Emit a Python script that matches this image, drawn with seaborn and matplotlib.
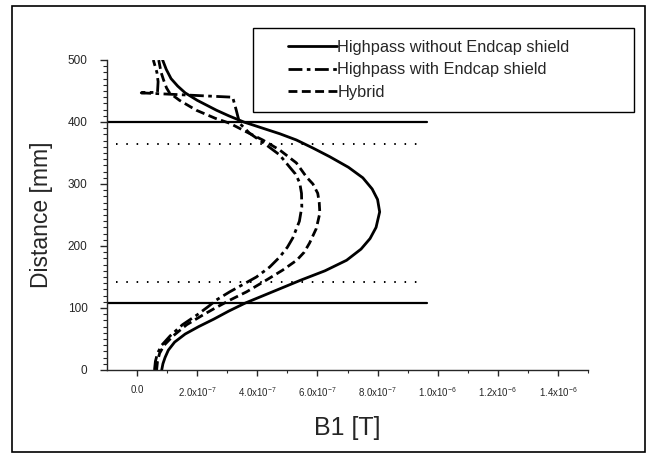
import matplotlib
matplotlib.use('Agg')
import matplotlib.pyplot as plt
import seaborn as sns
import pandas as pd
from matplotlib.patches import Rectangle
from matplotlib.ticker import MultipleLocator, FixedLocator

# Highpass without Endcap shield (distance mm, B1 in 1e-6 T)
solid_y = [0, 10, 20, 32, 45, 58, 70, 82, 95, 108, 120, 132, 145, 160, 177, 195, 212, 230, 255,
           275, 292, 310, 327, 344, 358, 371, 381, 390, 400, 410, 419, 435, 447, 458, 470, 485, 500]
solid_x = [0.082, 0.086, 0.093, 0.104, 0.125, 0.160, 0.205, 0.255, 0.305, 0.360, 0.420, 0.480, 0.545,
           0.625, 0.697, 0.745, 0.775, 0.795, 0.807, 0.800, 0.782, 0.751, 0.703, 0.641, 0.585, 0.530,
           0.475, 0.418, 0.355, 0.305, 0.264, 0.200, 0.160, 0.135, 0.113, 0.097, 0.085]

# Highpass with Endcap shield
dashdot_y = [0, 14, 27, 40, 55, 73, 89, 102, 113, 126, 140, 150, 166, 182, 198, 213, 240, 263, 285,
             302, 316, 327, 347, 363, 382, 398, 419, 440, 447, 448, 465, 480, 500]
dashdot_x = [0.058, 0.061, 0.068, 0.082, 0.110, 0.151, 0.200, 0.236, 0.264, 0.308, 0.360, 0.397,
             0.441, 0.474, 0.500, 0.518, 0.540, 0.548, 0.547, 0.541, 0.527, 0.508, 0.474, 0.430,
             0.374, 0.341, 0.330, 0.318, 0.014, 0.068, 0.070, 0.066, 0.054]

# Hybrid
hybrid_y = [0, 14, 27, 40, 55, 73, 89, 100, 113, 126, 145, 161, 177, 190, 205, 228, 253, 270, 285,
            300, 311, 334, 355, 371, 384, 398, 406, 419, 435, 447, 455, 468, 480, 500]
hybrid_x = [0.065, 0.068, 0.075, 0.090, 0.120, 0.165, 0.220, 0.260, 0.310, 0.364, 0.430, 0.484,
            0.531, 0.556, 0.574, 0.596, 0.608, 0.606, 0.601, 0.585, 0.564, 0.530, 0.474, 0.418,
            0.364, 0.308, 0.260, 0.197, 0.141, 0.108, 0.098, 0.088, 0.080, 0.072]

# reference lines
shield_y = [108, 400]
shield_x = [-0.1, 0.965]
coil_y = [142, 364]
coil_x = [-0.07, 0.935]

labels = ['Highpass without Endcap shield', 'Highpass with Endcap shield', 'Hybrid']
xtick_vals = [0.0, 0.2, 0.4, 0.6, 0.8, 1.0, 1.2, 1.4]
xtick_labels = ['0.0', '2.0x10$^{-7}$', '4.0x10$^{-7}$', '6.0x10$^{-7}$', '8.0x10$^{-7}$',
                '1.0x10$^{-6}$', '1.2x10$^{-6}$', '1.4x10$^{-6}$']

sns.set_style('ticks')
plt.rcParams['font.family'] = ['Liberation Sans', 'DejaVu Sans']
plt.rcParams['mathtext.fontset'] = 'custom'
plt.rcParams['mathtext.rm'] = 'Liberation Sans'
plt.rcParams['mathtext.it'] = 'Liberation Sans'

frames = []
for lab, xs, ys in [(labels[0], solid_x, solid_y), (labels[1], dashdot_x, dashdot_y), (labels[2], hybrid_x, hybrid_y)]:
    d = pd.DataFrame({'B1': [v * 1e-6 for v in xs], 'dist': ys})
    d['series'] = lab
    frames.append(d)
df = pd.concat(frames, ignore_index=True)

fig = plt.figure(figsize=(6.51, 4.55), dpi=100)
ax = fig.add_axes([107 / 651, 1 - 370 / 455, 481 / 651, 310 / 455])

dash_styles = {labels[0]: '', labels[1]: (5, 1.6, 1.3, 1.6), labels[2]: (3.2, 1.6)}
sns.lineplot(data=df, x='B1', y='dist', hue='series', style='series', units='series',
             estimator=None, sort=False, dashes=dash_styles, palette=['black'] * 3,
             linewidth=2, ax=ax, legend=False)

for yv in shield_y:
    ax.plot([shield_x[0] * 1e-6, shield_x[1] * 1e-6], [yv, yv], color='black', lw=1.6)
for yv in coil_y:
    ax.plot([coil_x[0] * 1e-6, coil_x[1] * 1e-6], [yv, yv], color='black', lw=1.4,
            linestyle=(0, (0.8, 4.5)))

ax.set_xlim(-1e-7, 1.5e-6)
ax.set_ylim(0, 500)
sns.despine(ax=ax)
ax.spines['left'].set_linewidth(1.0)
ax.spines['bottom'].set_linewidth(1.0)

ax.xaxis.set_major_locator(FixedLocator([v * 1e-6 for v in xtick_vals]))
ax.xaxis.set_minor_locator(FixedLocator([(v + 0.1) * 1e-6 for v in xtick_vals]))
ax.set_xticklabels(xtick_labels, fontsize=7)
ax.yaxis.set_major_locator(MultipleLocator(100))
ax.yaxis.set_minor_locator(MultipleLocator(10))
ax.tick_params(axis='y', which='major', length=5, width=1, pad=9, labelsize=8.5)
ax.tick_params(axis='y', which='minor', length=3, width=0.8)
ax.tick_params(axis='x', which='major', length=4, width=1, pad=7)
ax.tick_params(axis='x', which='minor', length=2.5, width=0.8)

ax.set_xlabel('B1 [T]', fontsize=18)
ax.set_ylabel('Distance [mm]', fontsize=16.5)
ax.xaxis.set_label_coords(0.5, -0.148)
ax.yaxis.set_label_coords(-0.112, 0.5)

# legend: frame drawn separately (wide right padding as in the original)
fig.patches.append(Rectangle((253 / 651, 1 - 112 / 455), 381 / 651, 84 / 455, transform=fig.transFigure,
                             facecolor='white', edgecolor='black', lw=1.0, zorder=5))
handles = [plt.Line2D([], [], color='black', lw=2),
           plt.Line2D([], [], color='black', lw=2, dashes=dash_styles[labels[1]]),
           plt.Line2D([], [], color='black', lw=2, dashes=dash_styles[labels[2]])]
leg = fig.legend(handles, labels, loc='upper left', bbox_to_anchor=(288 / 651, 1 - 40 / 455),
                 frameon=False, fontsize=11.8, handlelength=3.0,
                 handletextpad=0.0, borderaxespad=0, borderpad=0, labelspacing=0.45)
leg.set_zorder(6)

fig.patches.append(Rectangle((12 / 651, 3 / 455), 633 / 651, 446 / 455, transform=fig.transFigure,
                             fill=False, edgecolor='black', lw=1.2))

fig.savefig('out.png', dpi=100)
